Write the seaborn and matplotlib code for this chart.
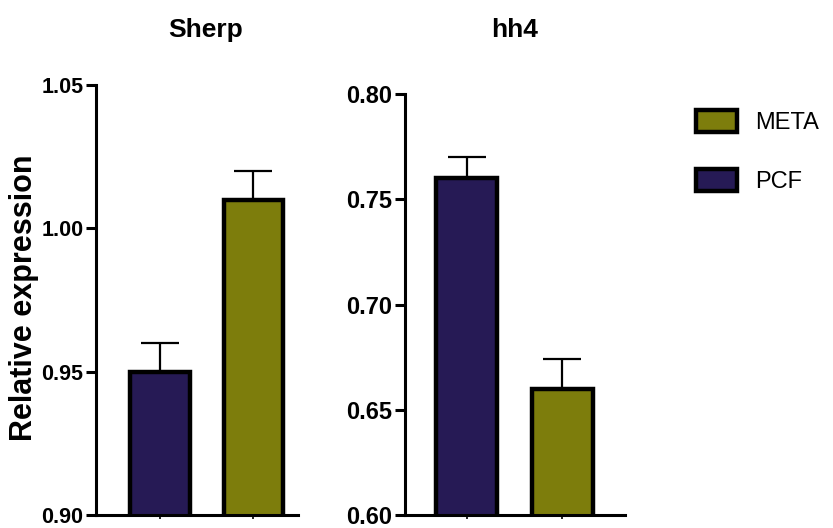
import matplotlib
matplotlib.use("Agg")
import matplotlib.pyplot as plt
import seaborn as sns
import pandas as pd
from matplotlib.patches import Patch

sns.set_theme(style="ticks")
plt.rcParams['font.family'] = ['Liberation Sans', 'DejaVu Sans']
plt.rcParams['text.color'] = 'black'
plt.rcParams['xtick.color'] = 'black'
plt.rcParams['ytick.color'] = 'black'
plt.rcParams['axes.labelcolor'] = 'black'

groups = ["PCF", "META"]
sherp_values = [0.95, 1.01]
sherp_errors = [0.01, 0.01]
hh4_values = [0.76, 0.66]
hh4_errors = [0.01, 0.014]
genes = ["Sherp", "hh4"]
sherp_ticks = [0.90, 0.95, 1.00, 1.05]
hh4_ticks = [0.60, 0.65, 0.70, 0.75, 0.80]

colors = {"PCF": "#261a55", "META": "#7d7d0c"}

fig = plt.figure(figsize=(8.33, 5.28), dpi=100)
ax1 = fig.add_axes([96/833, 1-515/528, 202/833, (515-85)/528])
ax2 = fig.add_axes([405/833, 1-515/528, 220/833, (515-94)/528])

panels = [
    (ax1, sherp_values, sherp_errors, sherp_ticks, (-0.69, 1.48), 15.5),
    (ax2, hh4_values, hh4_errors, hh4_ticks, (-0.65, 1.66), 17),
]
for ax, vals, errs, ticks, xl, fs in panels:
    df = pd.DataFrame({"group": groups, "value": vals, "err": errs})
    ax.errorbar(x=range(len(groups)), y=df["value"],
                yerr=[[0]*len(errs), df["err"]], fmt="none",
                ecolor="black", elinewidth=1.6, capsize=14, capthick=1.6, zorder=1)
    sns.barplot(data=df, x="group", y="value", hue="group", palette=colors,
                order=groups, hue_order=groups, width=0.64, edgecolor="black",
                linewidth=3.2, saturation=1, legend=False, ax=ax, zorder=2)
    ax.set_ylim(ticks[0], ticks[-1])
    ax.set_xlim(*xl)
    ax.set_yticks(ticks)
    ax.set_yticklabels([f"{t:.2f}" for t in ticks], fontsize=fs, fontweight="bold")
    ax.set_xticklabels([])
    ax.set_xlabel("")
    ax.set_ylabel("")
    sns.despine(ax=ax)
    for s in ["left", "bottom"]:
        ax.spines[s].set_linewidth(2.2)
        ax.spines[s].set_color("black")
    ax.tick_params(axis="y", length=7, width=2.2, color="black", pad=2)
    ax.tick_params(axis="x", length=3, width=1.2, color="black")
    ax.set_facecolor("white")

fig.text(24/833, 1-298/528, "Relative expression", rotation=90, ha="center", va="center",
         fontsize=22, fontweight="bold")

fig.text(206/833, 1-30/528, genes[0], ha="center", va="center", fontsize=19, fontweight="bold")
fig.text(515/833, 1-30/528, genes[1], ha="center", va="center", fontsize=19, fontweight="bold")

handles = [Patch(facecolor=colors["META"], edgecolor="black", linewidth=3.2, label="META"),
           Patch(facecolor=colors["PCF"], edgecolor="black", linewidth=3.2, label="PCF")]
fig.legend(handles=handles, loc="upper left", bbox_to_anchor=(694/833, 1-108/528),
           frameon=False, fontsize=17, handlelength=1.7, handleheight=1.05,
           labelspacing=1.45, handletextpad=0.8, borderpad=0.1, borderaxespad=0)

fig.savefig("out.png", dpi=100, facecolor="white")
